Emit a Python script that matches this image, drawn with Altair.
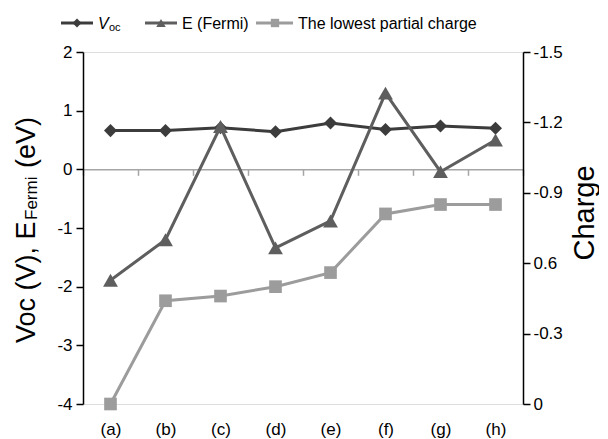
import altair as alt
import pandas as pd

categories = ["(a)", "(b)", "(c)", "(d)", "(e)", "(f)", "(g)", "(h)"]
voc = [0.66, 0.66, 0.71, 0.64, 0.79, 0.68, 0.74, 0.70]
e_fermi = [-1.89, -1.20, 0.73, -1.34, -0.88, 1.30, -0.04, 0.50]
charge = [0.0, -0.44, -0.46, -0.50, -0.56, -0.81, -0.85, -0.85]
left_ticks = [-4, -3, -2, -1, 0, 1, 2]
right_ticks = [0, -0.3, -0.6, -0.9, -1.2, -1.5]

df = pd.DataFrame({"cat": categories, "voc": voc, "fermi": e_fermi, "charge": charge})

FONT = "Liberation Sans"
W, H = 440, 352
LMIN, LMAX = -4, 2
zero_offset = -H * (0 - LMIN) / (LMAX - LMIN)

C1 = "#3c3c3c"
C2 = "#5e5e5e"
C3 = "#9c9c9c"

x_enc = alt.X(
    "cat:N", sort=categories,
    scale=alt.Scale(type="band", paddingInner=0, paddingOuter=0),
    axis=alt.Axis(title=None, orient="bottom", offset=zero_offset,
                  domainColor="#a6a6a6", domainWidth=1.5,
                  tickColor="#a6a6a6", tickWidth=1.5, tickSize=6, tickBand="extent",
                  labelPadding=246, labelFontSize=17, labelColor="black",
                  labelFont=FONT, labelAngle=0, zindex=0),
)

left_scale = alt.Scale(domain=[LMIN, LMAX], nice=False, zero=False)
left_axis = alt.Axis(title=None, orient="left", values=left_ticks, domainColor="black",
                     domainWidth=1.5, tickColor="black", tickWidth=1.5, tickSize=7,
                     labelPadding=4, labelFontSize=17, labelColor="black", labelFont=FONT,
                     labelExpr="'' + datum.value", grid=False)

right_scale = alt.Scale(domain=[-1.5, 0], nice=False, zero=False, reverse=True)
right_axis = alt.Axis(title=None, orient="right", values=right_ticks, domainColor="black",
                      domainWidth=1.5, tickColor="black", tickWidth=1.5, tickSize=7,
                      labelPadding=3, labelFontSize=17, labelColor="black", labelFont=FONT,
                      labelExpr="datum.value == -0.6 ? '0.6' : '' + datum.value", grid=False)

voc_chart = alt.Chart(df).mark_line(
    color=C1, strokeWidth=3,
    point=alt.OverlayMarkDef(shape="diamond", size=170, filled=True, color=C1, opacity=1),
).encode(x=x_enc, y=alt.Y("voc:Q", scale=left_scale, axis=left_axis))

fermi_chart = alt.Chart(df).mark_line(
    color=C2, strokeWidth=3,
    point=alt.OverlayMarkDef(shape="triangle-up", size=220, filled=True, color=C2, opacity=1),
).encode(x=x_enc, y=alt.Y("fermi:Q", scale=left_scale, axis=left_axis))

charge_chart = alt.Chart(df).mark_line(
    color=C3, strokeWidth=3,
    point=alt.OverlayMarkDef(shape="square", size=160, filled=True, color=C3, opacity=1),
).encode(x=x_enc, y=alt.Y("charge:Q", scale=right_scale, axis=right_axis))


def txt(s, x, y, size, angle=0, align="left", baseline="alphabetic", style="normal"):
    kw = dict(font=FONT, fontSize=size, align=align, baseline=baseline,
              fontStyle=style, color="black")
    if angle:
        kw["angle"] = angle
    return alt.Chart(pd.DataFrame({"t": [s]})).mark_text(**kw).encode(
        text="t:N", x=alt.value(x), y=alt.value(y))


def one():
    return pd.DataFrame({"k": [0]})


def leg_line(x1, x2, y, color):
    return alt.Chart(one()).mark_rule(color=color, strokeWidth=3).encode(
        x=alt.value(x1), x2=alt.value(x2), y=alt.value(y))


def leg_pt(x, y, shape, size, color):
    return alt.Chart(one()).mark_point(shape=shape, size=size, filled=True,
                                       color=color, opacity=1).encode(
        x=alt.value(x), y=alt.value(y))


LY = -29
annotations = [
    # left axis title with subscript
    txt("Voc (V), E", -48, 291, 27, angle=270),
    txt("Fermi", -46, 168, 17, angle=270),
    txt("(eV)", -48, 116, 27, angle=270),
    # right axis title
    txt("Charge", 511, 161, 29, angle=270, align="center"),
    # legend
    leg_line(-22, 10, LY, C1), leg_pt(-6, LY, "diamond", 80, C1),
    txt("V", 15, -23, 16, style="italic"), txt("oc", 26, -21, 11),
    leg_line(62, 94, LY, C2), leg_pt(78, LY, "triangle-up", 90, C2),
    txt("E (Fermi)", 99, -23, 16),
    leg_line(173, 210, LY, C3), leg_pt(192, LY, "square", 70, C3),
    txt("The lowest partial charge", 215, -23, 16),
]

left_group = alt.layer(voc_chart, fermi_chart)
chart = alt.layer(left_group, charge_chart, *annotations).resolve_scale(
    y="independent"
).properties(
    width=W, height=H,
    autosize=alt.AutoSizeParams(type="none"),
    padding={"left": 75, "top": 44, "right": 76, "bottom": 34},
).configure_view(stroke="black", strokeWidth=1.5).configure(background="white")

chart.save("out.html", embed_options={"renderer": "svg", "actions": False})
